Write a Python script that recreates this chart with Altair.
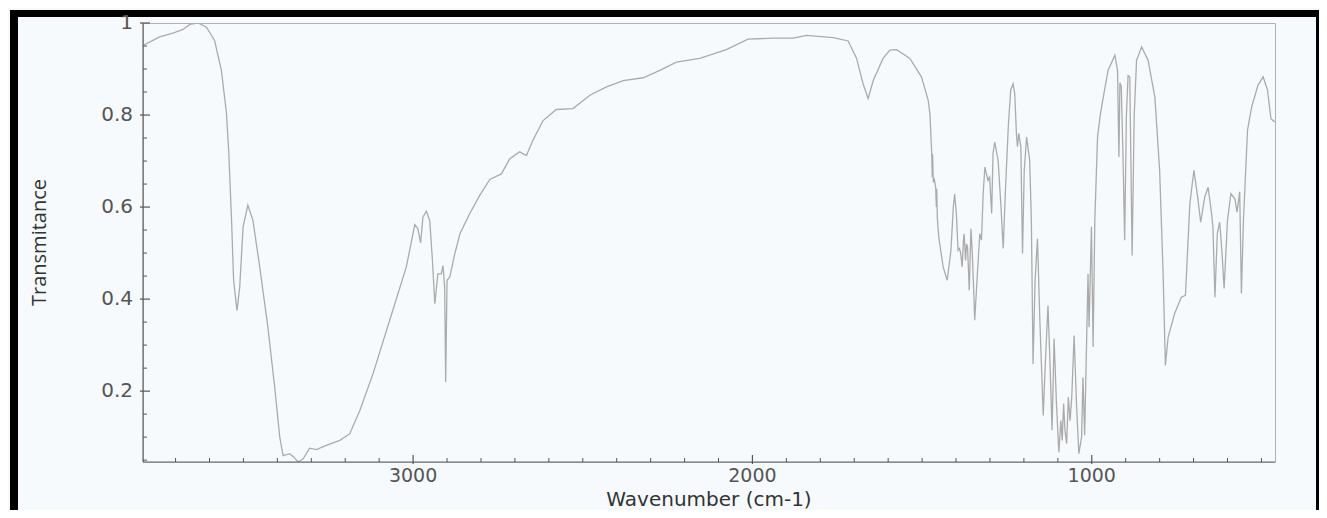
import altair as alt
import pandas as pd

# ---- spectrum (wavenumber cm-1, transmittance) ----
wavenumber = [
    3796, 3747, 3708, 3678, 3658, 3634, 3609, 3585, 3565, 3550, 3543, 3535, 3529, 3519, 3511,
    3501, 3487, 3472, 3452, 3428, 3408, 3393, 3383, 3364, 3352, 3339, 3324, 3305, 3285, 3256,
    3216, 3187, 3157, 3118, 3069, 3020, 2995, 2986, 2978, 2971, 2961, 2951, 2943, 2936, 2927,
    2917, 2912, 2907, 2904, 2900, 2892, 2877, 2862, 2833, 2804, 2774, 2740, 2715, 2686, 2666,
    2647, 2617, 2578, 2529, 2479, 2430, 2381, 2322, 2273, 2224, 2155, 2077, 2013, 1939, 1880,
    1841, 1762, 1718, 1693, 1674, 1659, 1644, 1615, 1595, 1575, 1536, 1502, 1482, 1477, 1472,
    1470, 1469, 1467, 1464, 1460, 1458, 1457, 1455, 1451, 1438, 1426, 1415, 1408, 1404, 1399,
    1394, 1390, 1386, 1382, 1378, 1376, 1372, 1369, 1366, 1361, 1356, 1352, 1348, 1345, 1337,
    1330, 1325, 1320, 1315, 1306, 1301, 1295, 1291, 1286, 1276, 1268, 1261, 1254, 1246, 1239,
    1232, 1227, 1222, 1219, 1215, 1212, 1209, 1204, 1199, 1192, 1183, 1178, 1173, 1167, 1160,
    1153, 1143, 1137, 1129, 1124, 1117, 1111, 1104, 1097, 1091, 1087, 1083, 1079, 1074, 1069,
    1064, 1059, 1052, 1045, 1038, 1030, 1026, 1021, 1016, 1011, 1008, 1001, 996, 991, 983,
    975, 966, 952, 932, 924, 920, 917, 913, 908, 903, 898, 893, 888, 881, 875,
    868, 853, 834, 814, 800, 790, 783, 775, 756, 736, 724, 718, 711, 699, 688,
    679, 667, 657, 647, 643, 637, 630, 623, 616, 610, 600, 590, 578, 572, 564,
    559, 553, 541, 529, 510, 495, 482, 472, 461,
]
transmittance = [
    0.951, 0.970, 0.978, 0.986, 0.997, 1.000, 0.991, 0.962, 0.897, 0.804, 0.716, 0.571, 0.441, 0.375, 0.426,
    0.557, 0.604, 0.571, 0.470, 0.339, 0.209, 0.100, 0.060, 0.064, 0.057, 0.046, 0.053, 0.076, 0.073, 0.082,
    0.093, 0.107, 0.158, 0.238, 0.354, 0.470, 0.562, 0.553, 0.522, 0.578, 0.591, 0.571, 0.484, 0.390, 0.455,
    0.455, 0.473, 0.426, 0.220, 0.441, 0.448, 0.499, 0.542, 0.586, 0.625, 0.660, 0.672, 0.705, 0.720, 0.712,
    0.745, 0.788, 0.812, 0.814, 0.843, 0.861, 0.875, 0.881, 0.897, 0.915, 0.923, 0.942, 0.965, 0.967, 0.967,
    0.973, 0.968, 0.961, 0.923, 0.868, 0.836, 0.875, 0.923, 0.941, 0.942, 0.923, 0.883, 0.832, 0.803, 0.723,
    0.665, 0.715, 0.654, 0.660, 0.643, 0.600, 0.640, 0.575, 0.535, 0.470, 0.441, 0.506, 0.600, 0.628, 0.586,
    0.506, 0.510, 0.499, 0.470, 0.530, 0.542, 0.484, 0.520, 0.513, 0.419, 0.553, 0.499, 0.420, 0.354, 0.455,
    0.542, 0.528, 0.629, 0.687, 0.658, 0.665, 0.586, 0.716, 0.741, 0.702, 0.607, 0.510, 0.643, 0.774, 0.854,
    0.868, 0.847, 0.760, 0.731, 0.760, 0.745, 0.731, 0.499, 0.680, 0.752, 0.702, 0.571, 0.259, 0.441, 0.531,
    0.354, 0.147, 0.259, 0.386, 0.281, 0.115, 0.314, 0.172, 0.067, 0.136, 0.093, 0.173, 0.115, 0.086, 0.187,
    0.136, 0.187, 0.321, 0.172, 0.064, 0.100, 0.230, 0.104, 0.281, 0.455, 0.339, 0.557, 0.296, 0.571, 0.752,
    0.800, 0.839, 0.897, 0.930, 0.897, 0.709, 0.870, 0.862, 0.712, 0.528, 0.797, 0.886, 0.883, 0.495, 0.797,
    0.919, 0.948, 0.919, 0.839, 0.680, 0.462, 0.256, 0.317, 0.368, 0.404, 0.408, 0.499, 0.607, 0.680, 0.622,
    0.567, 0.622, 0.643, 0.586, 0.557, 0.404, 0.543, 0.567, 0.499, 0.423, 0.571, 0.629, 0.618, 0.589, 0.633,
    0.412, 0.571, 0.767, 0.817, 0.865, 0.883, 0.854, 0.792, 0.785,
]

# ---- axis ticks and texts ----
x_major = [3000, 2000, 1000]
x_labels = ["3000", "2000", "1000"]
x_minor = [3700, 3600, 3500, 3400, 3300, 3200, 3100, 2900, 2800, 2700, 2600, 2500, 2400,
           2300, 2200, 2100, 1900, 1800, 1700, 1600, 1500, 1400, 1300, 1200, 1100, 900,
           800, 700, 600, 500]
y_major = [0.2, 0.4, 0.6, 0.8, 1.0]
y_labels = ["0.2", "0.4", "0.6", "0.8", "1"]
y_minor = [0.05, 0.1, 0.15, 0.25, 0.3, 0.35, 0.45, 0.5, 0.55, 0.65, 0.7, 0.75, 0.85, 0.9, 0.95]
x_title = "Wavenumber (cm-1)"
y_title = "Transmitance"

X_DOMAIN = [3796, 460]
Y_DOMAIN = [0.046, 1.0]

W, H = 1132, 439
TICK = "#555"

df = pd.DataFrame({"w": wavenumber, "t": transmittance, "i": list(range(len(wavenumber)))})

xs = alt.Scale(domain=X_DOMAIN, nice=False, zero=False)
ys = alt.Scale(domain=Y_DOMAIN, nice=False, zero=False)

one = pd.DataFrame({"k": [0]})

def strip(x1, x2, y1, y2, color="black"):
    return alt.Chart(one).mark_rect(color=color).encode(
        x=alt.value(x1), x2=alt.value(x2), y=alt.value(y1), y2=alt.value(y2)
    )

# black picture frame
frame = [
    strip(-133, -125, -13, 520),
    strip(-133, 1200, -13, -6),
    strip(1173, 1200, -13, 520),
]

line = alt.Chart(df).mark_line(color="#ababab", strokeWidth=1.3, clip=True).encode(
    x=alt.X("w:Q", scale=xs, axis=None),
    y=alt.Y("t:Q", scale=ys, axis=None),
    order="i:Q",
)

# axis lines
left_domain = alt.Chart(one).mark_rule(color="#666", strokeWidth=1.2).encode(
    x=alt.value(0), y=alt.value(0), y2=alt.value(H))
bottom_domain = alt.Chart(one).mark_rule(color="#666", strokeWidth=1.2).encode(
    x=alt.value(0), x2=alt.value(W), y=alt.value(H))

# ticks (drawn inward)
ytick_minor = alt.Chart(pd.DataFrame({"t": y_minor})).mark_rule(color=TICK).encode(
    y=alt.Y("t:Q", scale=ys, axis=None), x=alt.value(0), x2=alt.value(4))
ytick_major = alt.Chart(pd.DataFrame({"t": y_major})).mark_rule(color=TICK, strokeWidth=1.2).encode(
    y=alt.Y("t:Q", scale=ys, axis=None), x=alt.value(-3), x2=alt.value(7))
xtick_minor = alt.Chart(pd.DataFrame({"w": x_minor})).mark_rule(color=TICK).encode(
    x=alt.X("w:Q", scale=xs, axis=None), y=alt.value(H), y2=alt.value(H - 4))
xtick_major = alt.Chart(pd.DataFrame({"w": x_major})).mark_rule(color=TICK, strokeWidth=1.2).encode(
    x=alt.X("w:Q", scale=xs, axis=None), y=alt.value(H + 2), y2=alt.value(H - 7))

# tick labels
ylab = alt.Chart(pd.DataFrame({"t": y_major, "label": y_labels})).mark_text(
    align="right", baseline="middle", font="DejaVu Sans", fontSize=20, color="#555"
).encode(y=alt.Y("t:Q", scale=ys, axis=None), x=alt.value(-10), text="label:N")
xlab = alt.Chart(pd.DataFrame({"w": x_major, "label": x_labels})).mark_text(
    align="center", baseline="alphabetic", font="DejaVu Sans", fontSize=19, color="#555"
).encode(x=alt.X("w:Q", scale=xs, axis=None), y=alt.value(H + 20), text="label:N")

# axis titles
xtitle = alt.Chart(pd.DataFrame({"label": [x_title]})).mark_text(
    align="center", baseline="alphabetic", font="DejaVu Sans", fontSize=20, color="#333"
).encode(x=alt.value(W / 2), y=alt.value(H + 43.5), text="label:N")
ytitle = alt.Chart(pd.DataFrame({"label": [y_title]})).mark_text(
    align="center", baseline="alphabetic", angle=270, font="Open Sans", fontSize=20, color="#333"
).encode(x=alt.value(-97), y=alt.value(H / 2), text="label:N")

chart = alt.layer(
    line, *frame, left_domain, bottom_domain,
    ytick_minor, ytick_major, xtick_minor, xtick_major,
    ylab, xlab, xtitle, ytitle,
).properties(
    width=W, height=H,
    autosize=alt.AutoSizeParams(type="none"),
    padding={"left": 135, "top": 15, "right": 44, "bottom": 48},
    background="#f6fafc",
).configure_view(stroke="#b0b0b0", strokeWidth=1)

chart.save("out.html", embed_options={"renderer": "svg", "actions": False})
